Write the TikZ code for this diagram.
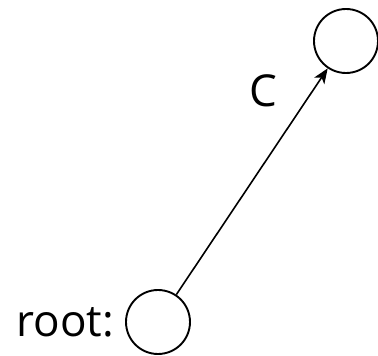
\documentclass[tikz,border=0pt]{standalone}
\usepackage{fontspec}
\setmainfont{Open Sans}
\usetikzlibrary{positioning}
\usetikzlibrary{arrows.meta}

\begin{document}
\begin{tikzpicture}[x=1pt,y=1pt]
\tikzset{vertex/.style={circle,draw=black,line width=1.9pt,minimum size=64pt,inner sep=0pt},
  biglabel/.style={font=\fontsize{44}{50}\selectfont,inner sep=2pt}}
\useasboundingbox (0,0) rectangle (378,356);
\node[vertex] (root) at (158,34) {};
\node[vertex] (child) at (346,315) {};
\node[biglabel,left=9pt of root] (rootlabel) {root:};
\draw[-{Stealth[length=15pt,width=12pt,inset=4pt]},line width=1.6pt] (root) -- (child)
  node[biglabel,pos=0.9,left=32pt] (edgelabel) {C};
\end{tikzpicture}
\end{document}
